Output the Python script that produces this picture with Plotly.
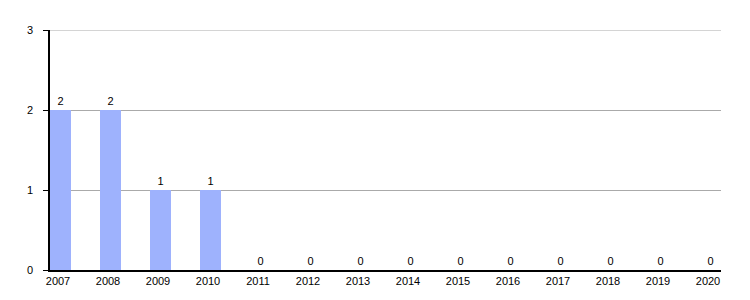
import plotly.graph_objects as go

years = [2007, 2008, 2009, 2010, 2011, 2012, 2013, 2014, 2015, 2016, 2017, 2018, 2019, 2020]
counts = [2, 2, 1, 1, 0, 0, 0, 0, 0, 0, 0, 0, 0, 0]
year_labels = [str(y) for y in years]
y_ticks = [0, 1, 2, 3]
y_max = 3

fig = go.Figure()
fig.add_trace(go.Bar(
    x=years, y=counts,
    width=0.42, offset=-0.16,
    marker=dict(color="#9eb2fd", line=dict(width=0)),
    text=[str(v) for v in counts],
    textposition="outside",
    textfont=dict(family="Liberation Sans, Arial, sans-serif", size=11, color="#000"),
    cliponaxis=False,
    hoverinfo="skip",
))

# top gridline (plotly hides the gridline that sits on the plot edge)
fig.add_shape(type="line", xref="paper", yref="y", x0=0, x1=1, y0=y_max, y1=y_max,
              line=dict(color="#aaaaaa", width=1), layer="below")

fig.update_layout(
    width=750, height=300,
    margin=dict(l=50, r=29, t=30, b=30),
    paper_bgcolor="white", plot_bgcolor="white",
    showlegend=False,
    font=dict(family="Liberation Sans, Arial, sans-serif", size=11, color="#000"),
    xaxis=dict(
        range=[2006.84, 2020.26],
        tickmode="array", tickvals=years, ticktext=year_labels,
        showgrid=False, zeroline=False,
        showline=True, linecolor="#000", linewidth=1.5,
        ticks="", ticklabelstandoff=0,
        tickfont=dict(size=11),
    ),
    yaxis=dict(
        range=[0, y_max],
        tickmode="array", tickvals=y_ticks,
        showgrid=True, gridcolor="#aaaaaa", gridwidth=1,
        zeroline=False,
        showline=True, linecolor="#000", linewidth=1.5,
        ticks="outside", ticklen=5, tickcolor="#000", tickwidth=1,
        ticklabelstandoff=8,
        tickfont=dict(size=11),
    ),
    bargap=0,
)

fig.write_html("out.html")
